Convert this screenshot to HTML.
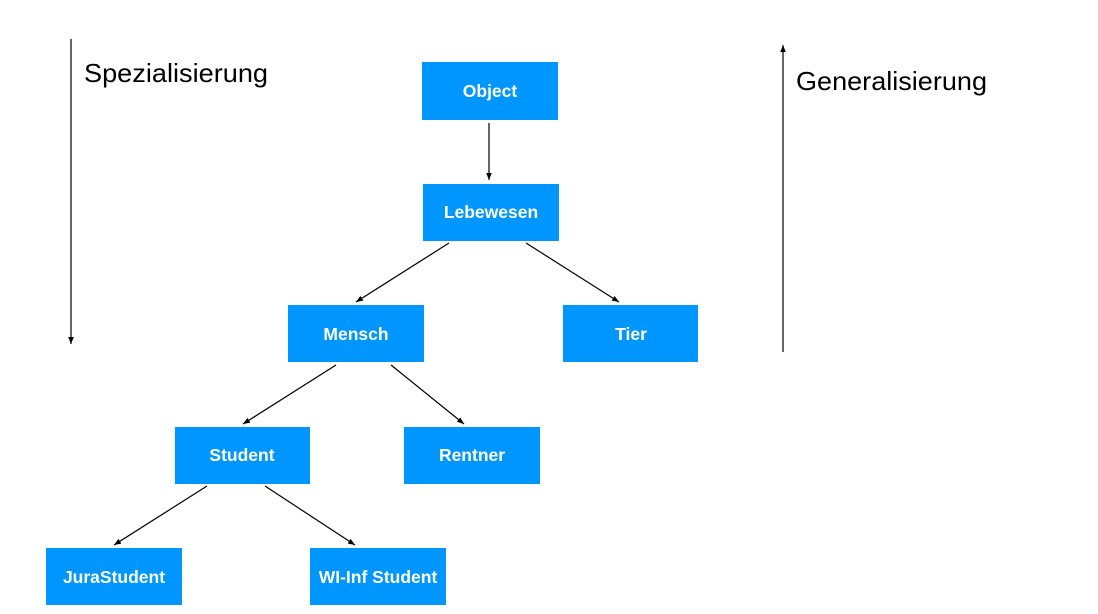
<!DOCTYPE html>
<html><head><style>
html,body{margin:0;padding:0;background:#fff;width:1098px;height:614px;overflow:hidden}
svg text{font-family:"Liberation Sans",Arial,sans-serif}
.b{fill:#0096FF}
.t{fill:#fff;font-size:17.5px;font-weight:bold;text-anchor:middle}
.l{stroke:#000;stroke-width:1.2;fill:none}
</style></head><body>
<svg width="1098" height="614" viewBox="0 0 1098 614">
<defs><marker id="a" markerWidth="8" markerHeight="8" refX="7" refY="4" orient="auto" markerUnits="userSpaceOnUse"><path d="M0,1.2 L7,4 L0,6.8 z" fill="#000"/></marker></defs>
<rect class="b" x="422" y="62" width="136" height="58"/><text class="t" x="490" y="97">Object</text>
<rect class="b" x="423" y="184" width="136" height="57"/><text class="t" x="491" y="218">Lebewesen</text>
<rect class="b" x="288" y="305" width="136" height="57"/><text class="t" x="356" y="340">Mensch</text>
<rect class="b" x="563" y="305" width="135" height="57"/><text class="t" x="631" y="340">Tier</text>
<rect class="b" x="175" y="427" width="135" height="57"/><text class="t" x="242" y="461">Student</text>
<rect class="b" x="404" y="427" width="136" height="57"/><text class="t" x="472" y="461">Rentner</text>
<rect class="b" x="46" y="548" width="136" height="57"/><text class="t" x="114" y="583">JuraStudent</text>
<rect class="b" x="310" y="548" width="136" height="57"/><text class="t" x="378" y="583">WI-Inf Student</text>
<line class="l" x1="489" y1="123" x2="489" y2="180" marker-end="url(#a)"/>
<line class="l" x1="449" y1="243" x2="356" y2="302" marker-end="url(#a)"/>
<line class="l" x1="526" y1="243" x2="619" y2="302" marker-end="url(#a)"/>
<line class="l" x1="336" y1="365" x2="243" y2="424" marker-end="url(#a)"/>
<line class="l" x1="391" y1="365" x2="464" y2="424" marker-end="url(#a)"/>
<line class="l" x1="207" y1="486" x2="114" y2="545" marker-end="url(#a)"/>
<line class="l" x1="265" y1="486" x2="355" y2="545" marker-end="url(#a)"/>
<line class="l" x1="71" y1="39" x2="71" y2="344" marker-end="url(#a)"/>
<line class="l" x1="783" y1="352" x2="783" y2="45" marker-end="url(#a)"/>
<text x="84" y="82" font-size="26" fill="#000" textLength="184" lengthAdjust="spacingAndGlyphs">Spezialisierung</text>
<text x="796" y="90" font-size="26" fill="#000" textLength="191" lengthAdjust="spacingAndGlyphs">Generalisierung</text>
</svg>
</body></html>
